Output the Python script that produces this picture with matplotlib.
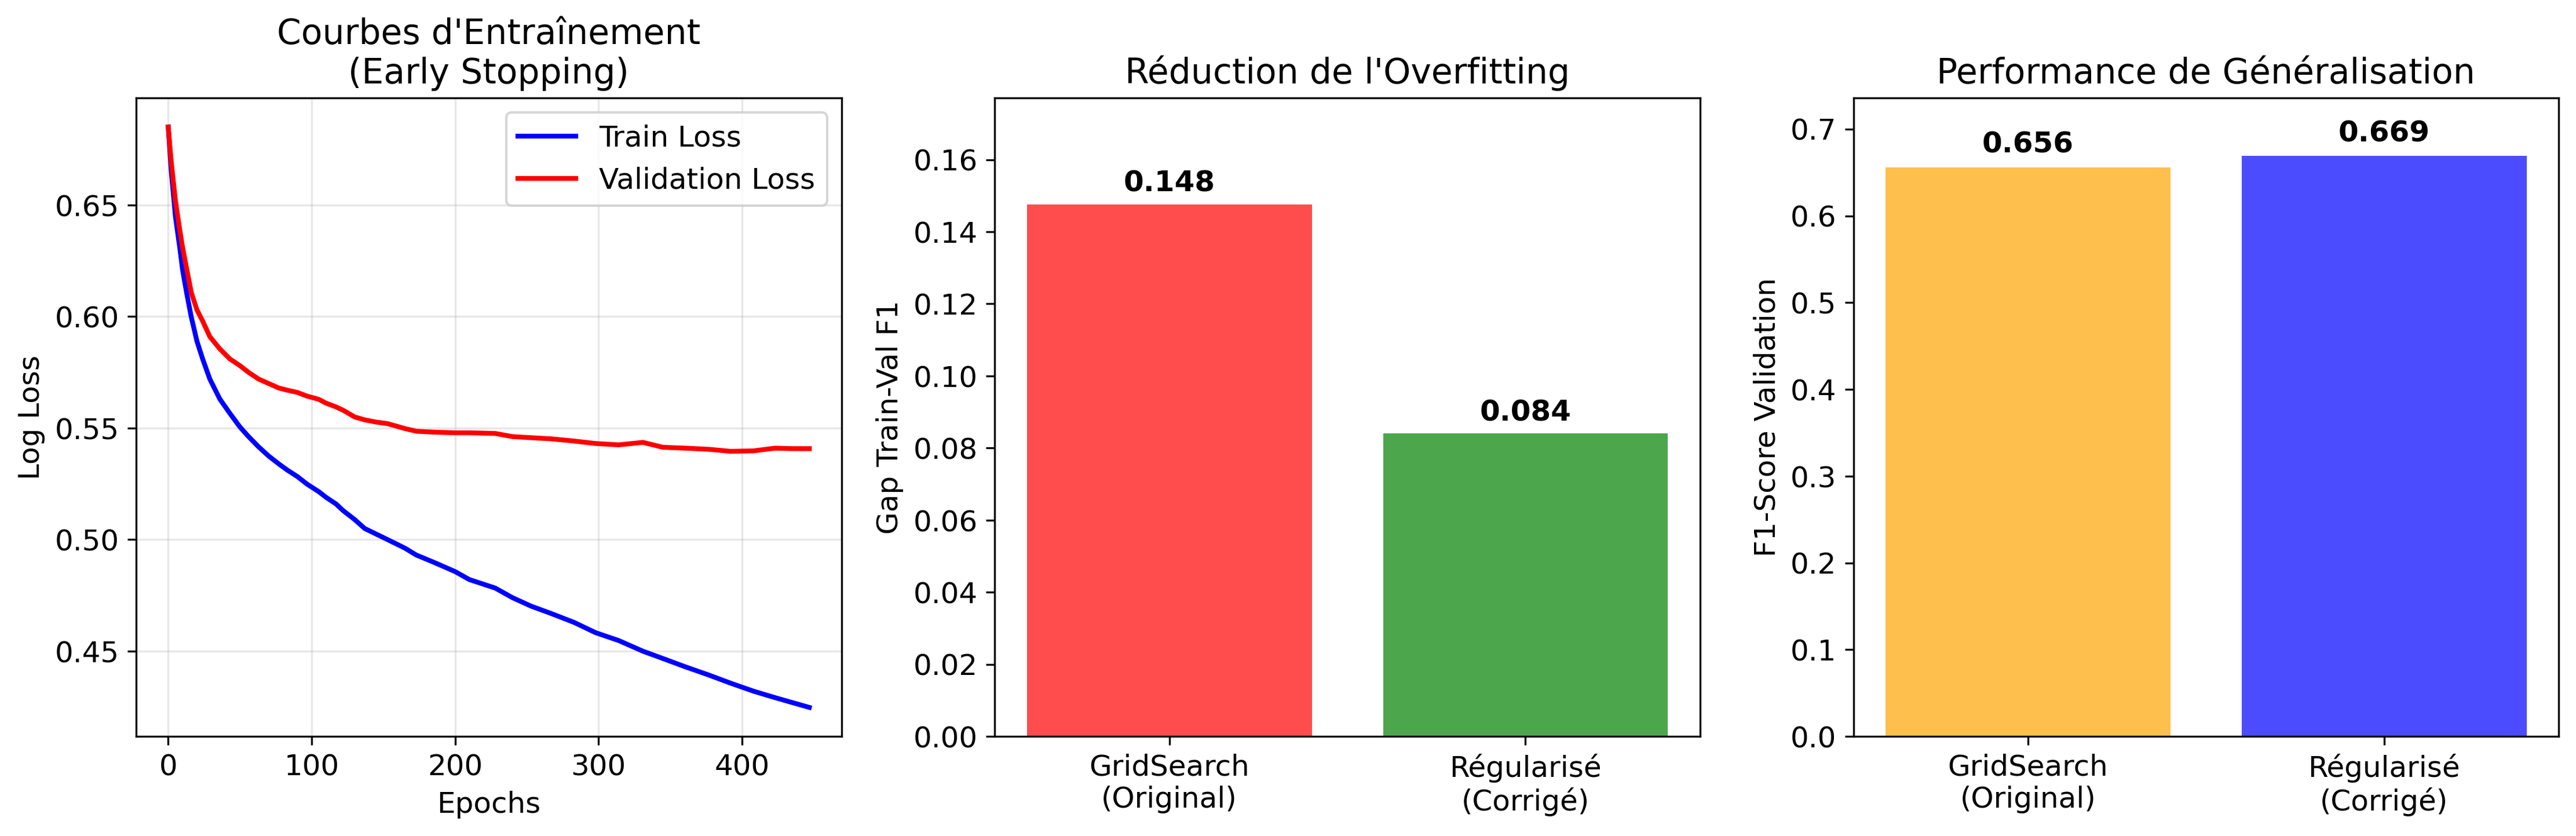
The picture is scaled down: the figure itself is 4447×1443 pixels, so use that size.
import numpy as np
import matplotlib
matplotlib.use("Agg")
import matplotlib.pyplot as plt

plt.rcParams['font.size'] = 12

# training curves at a set of epochs
epochs = [0, 2, 5, 8, 10, 13, 16, 20, 24, 29, 36, 43, 50, 56, 63, 70, 77, 83,
          90, 97, 105, 110, 117, 122, 130, 137, 145, 153, 165, 173, 185, 200,
          210, 228, 240, 253, 267, 283, 298, 314, 331, 345, 361, 377, 392, 408,
          423, 435, 447]
train_loss = [0.685, 0.666, 0.645, 0.631, 0.621, 0.610, 0.600, 0.589, 0.581,
              0.572, 0.563, 0.5566, 0.5505, 0.5462, 0.5416, 0.5375, 0.534,
              0.5312, 0.5283, 0.5248, 0.5215, 0.519, 0.516, 0.513, 0.509,
              0.505, 0.5025, 0.500, 0.4962, 0.4931, 0.4899, 0.4857, 0.4821,
              0.4783, 0.474, 0.4702, 0.4669, 0.4629, 0.4583, 0.4548, 0.450,
              0.4467, 0.4429, 0.4393, 0.4357, 0.4321, 0.4292, 0.427, 0.4248]
val_loss = [0.685, 0.670, 0.652, 0.639, 0.631, 0.621, 0.611, 0.603, 0.598,
            0.591, 0.5855, 0.581, 0.578, 0.575, 0.572, 0.570, 0.568, 0.567,
            0.566, 0.5643, 0.5629, 0.5612, 0.5595, 0.558, 0.555, 0.5537,
            0.5527, 0.552, 0.5498, 0.5486, 0.5482, 0.5479, 0.5479, 0.5476,
            0.5462, 0.5457, 0.5452, 0.5442, 0.5431, 0.5425, 0.5436, 0.5414,
            0.541, 0.5405, 0.5396, 0.5398, 0.541, 0.5408, 0.5408]

models = ['GridSearch\n(Original)', 'Régularisé\n(Corrigé)']
gaps = [0.1476, 0.084]
f1_val = [0.656, 0.669]

plt.figure(figsize=(15, 5))

# courbes
plt.subplot(1, 3, 1)
plt.plot(epochs, train_loss, label='Train Loss', color='blue', linewidth=2)
plt.plot(epochs, val_loss, label='Validation Loss', color='red', linewidth=2)
plt.xlabel('Epochs')
plt.ylabel('Log Loss')
plt.title("Courbes d'Entraînement\n(Early Stopping)")
plt.legend()
plt.grid(True, alpha=0.3)

# gap overfitting
plt.subplot(1, 3, 2)
bars = plt.bar(models, gaps, color=['red', 'green'], alpha=0.7)
plt.ylabel('Gap Train-Val F1')
plt.title("Réduction de l'Overfitting")
plt.ylim(0, max(gaps) * 1.2)
for bar, g in zip(bars, gaps):
    plt.text(bar.get_x() + bar.get_width() / 2, bar.get_height() + 0.002,
             f'{g:.3f}', ha='center', va='bottom', fontweight='bold')

# generalisation
plt.subplot(1, 3, 3)
bars = plt.bar(models, f1_val, color=['orange', 'blue'], alpha=0.7)
plt.ylabel('F1-Score Validation')
plt.title('Performance de Généralisation')
plt.ylim(0, max(f1_val) * 1.1)
for bar, f in zip(bars, f1_val):
    plt.text(bar.get_x() + bar.get_width() / 2, bar.get_height() + 0.01,
             f'{f:.3f}', ha='center', va='bottom', fontweight='bold')

plt.tight_layout()
plt.savefig('out.png', dpi=300, bbox_inches='tight')
